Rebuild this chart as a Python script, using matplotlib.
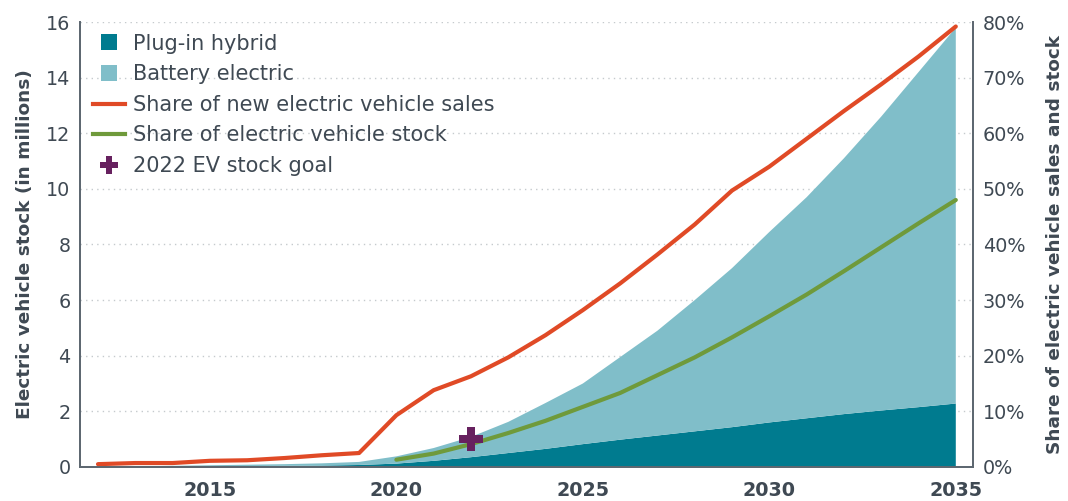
import matplotlib.pyplot as plt
from matplotlib.lines import Line2D
from matplotlib.ticker import FuncFormatter

plt.rcParams["font.family"] = ["DejaVu Sans"]

years = list(range(2012, 2036))
phev = [0.005, 0.01, 0.015, 0.02, 0.03, 0.04, 0.05, 0.07, 0.12, 0.22, 0.35, 0.5,
        0.65, 0.82, 0.98, 1.13, 1.28, 1.43, 1.6, 1.75, 1.9, 2.03, 2.15, 2.28]
total_stock = [0.01, 0.02, 0.04, 0.06, 0.08, 0.1, 0.13, 0.18, 0.38, 0.68, 1.08, 1.62,
               2.3, 3.0, 3.95, 4.9, 6.0, 7.15, 8.45, 9.7, 11.1, 12.6, 14.2, 15.8]
bev = [t - p for t, p in zip(total_stock, phev)]

sales_share = [0.5, 0.7, 0.7, 1.1, 1.2, 1.6, 2.1, 2.5, 9.3, 13.8, 16.3, 19.7,
               23.7, 28.2, 33.0, 38.2, 43.6, 49.7, 54.0, 59.0, 64.0, 68.8, 73.8, 79.2]
stock_years = list(range(2020, 2036))
stock_share = [1.3, 2.4, 4.1, 6.1, 8.3, 10.8, 13.3, 16.5, 19.7, 23.3, 27.1,
               31.0, 35.2, 39.5, 43.8, 48.0]

goal_year = 2022
goal_stock = 1.0

c_phev = "#007b8f"
c_bev = "#80bec9"
c_sales = "#e04a26"
c_stock = "#6f9a3b"
c_goal = "#67215f"
c_text = "#3f4953"
c_spine = "#5d6770"

fig = plt.figure(figsize=(10.68, 5.01), dpi=100)
ax1 = fig.add_axes([0.075, 0.068, 0.836, 0.888])
ax2 = ax1.twinx()

ax1.stackplot(years, phev, bev, colors=[c_phev, c_bev], linewidth=0)
ax1.set_xlim(2011.52, 2035.46)
ax1.set_ylim(0, 16)
ax1.set_yticks(range(0, 17, 2))
ax1.set_xticks([2015, 2020, 2025, 2030, 2035])
ax1.grid(axis="y", linestyle=(0, (1, 3)), color="#c5cacd", linewidth=1)
ax1.set_axisbelow(True)

ax2.plot(years, sales_share, color=c_sales, linewidth=3, solid_capstyle="round")
ax2.plot(stock_years, stock_share, color=c_stock, linewidth=3, solid_capstyle="round")
ax2.plot([goal_year], [goal_stock], marker="P", markersize=17, color=c_goal,
         markeredgewidth=0, linestyle="none", transform=ax1.transData)
ax2.set_ylim(0, 80)
ax2.set_yticks(range(0, 81, 10))
ax2.yaxis.set_major_formatter(FuncFormatter(lambda v, p: f"{v:.0f}%"))

for ax in (ax1, ax2):
    ax.spines["top"].set_visible(False)
    for s in ("left", "right", "bottom"):
        ax.spines[s].set_color(c_spine)
        ax.spines[s].set_linewidth(1.3)
    ax.tick_params(length=0, labelsize=13.8, colors=c_text, pad=7)

ax1.tick_params(axis="x", pad=10)
for lbl in ax1.get_xticklabels():
    lbl.set_fontweight("bold")

ax1.set_ylabel("Electric vehicle stock (in millions)", fontsize=13.3,
               fontweight="bold", color=c_text, labelpad=9)
ax2.set_ylabel("Share of electric vehicle sales and stock", fontsize=13.3,
               fontweight="bold", color=c_text, labelpad=15)

handles = [
    Line2D([], [], color=c_phev, marker="s", markersize=12, linestyle="none",
           markeredgewidth=0, label="Plug-in hybrid"),
    Line2D([], [], color=c_bev, marker="s", markersize=12, linestyle="none",
           markeredgewidth=0, label="Battery electric"),
    Line2D([], [], color=c_sales, linewidth=3, label="Share of new electric vehicle sales"),
    Line2D([], [], color=c_stock, linewidth=3, label="Share of electric vehicle stock"),
    Line2D([], [], color=c_goal, marker="P", markersize=13, markeredgewidth=0,
           linestyle="none", label="2022 EV stock goal"),
]
leg = ax2.legend(handles=handles, loc="upper left", bbox_to_anchor=(0.0146, 0.974),
                 frameon=False, fontsize=15, handlelength=1.55, handletextpad=0.35,
                 labelspacing=0.51, borderpad=0, borderaxespad=0)
for t in leg.get_texts():
    t.set_color(c_text)

fig.savefig("out.png", dpi=100)
